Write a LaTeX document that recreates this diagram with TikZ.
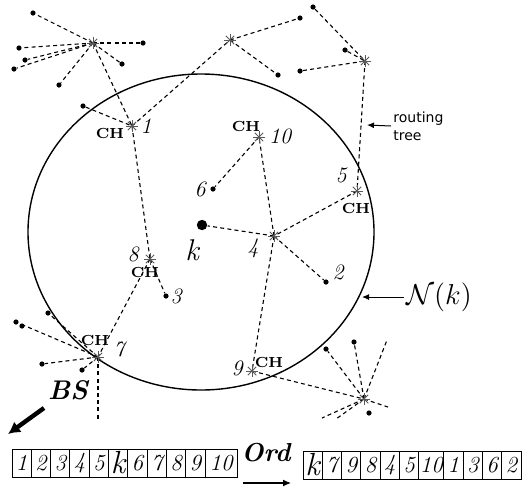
\documentclass[tikz,border=0pt]{standalone}
\usepackage{fontspec}
\newfontfamily\routefont{DejaVu Sans}
\usetikzlibrary{arrows.meta}
\begin{document}
\begin{tikzpicture}[x=0.5pt,y=-0.5pt,
  link/.style={draw, dash pattern=on 2pt off 1.6pt, line width=0.55pt},
  leaf/.style={circle, fill, inner sep=0pt, minimum size=2.6pt},
  bigleaf/.style={circle, fill, inner sep=0pt, minimum size=5.2pt},
  hub/.style={coordinate},
  num/.style={font=\fontsize{11}{11}\selectfont\itshape, inner sep=0pt},
  chlab/.style={font=\fontsize{7.3}{7.3}\selectfont\bfseries, inner sep=0pt},
  cell/.style={draw, line width=0.5pt, minimum height=14pt, minimum width=9.65pt, inner sep=0pt, outer sep=0pt, anchor=west, font=\fontsize{11.5}{11.5}\selectfont\itshape},
  starmark/.style={black!65, line width=0.5pt},
]
\useasboundingbox (0,0) rectangle (524,488);

% neighbourhood ellipse
\draw[line width=0.7pt] (201,232) ellipse [x radius=86.5pt, y radius=79pt];

% cluster heads / hubs
\node[hub] (A) at (93,43) {};
\node[hub] (B) at (230,40) {};
\node[hub] (C) at (365,61) {};
\node[hub] (D) at (364,399) {};
\node[hub] (n1) at (132,126) {};
\node[hub] (n10) at (259,137) {};
\node[hub] (n5) at (357,191) {};
\node[hub] (n4) at (274,236) {};
\node[hub] (n8) at (150,259) {};
\node[hub] (n7) at (98,357) {};
\node[hub] (n9) at (252,371) {};

% leaf nodes
\node[leaf] (a1) at (33,13) {};
\node[leaf] (a2) at (19,48) {};
\node[leaf] (a3) at (25,60) {};
\node[leaf] (a4) at (14,69) {};
\node[leaf] (a5) at (143,43) {};
\node[leaf] (a6) at (122,64) {};
\node[leaf] (a7) at (59,85) {};
\node[leaf] (b1) at (83,106) {};
\node[leaf] (b2) at (300,18) {};
\node[leaf] (b3) at (278,75) {};
\node[leaf] (c1) at (300,71) {};
\node[leaf] (c2) at (313,7) {};
\node[leaf] (c3) at (345,50) {};
\node[leaf] (n6) at (213,189) {};
\node[bigleaf] (k) at (202,225) {};
\node[leaf] (n2) at (326,282) {};
\node[leaf] (n3) at (166,296) {};
\node[leaf] (g1) at (16,322) {};
\node[leaf] (g2) at (22,326) {};
\node[leaf] (g3) at (48,313) {};
\node[leaf] (g4) at (42,364) {};
\node[leaf] (g5) at (82,370) {};
\node[leaf] (d1) at (326,349) {};
\node[leaf] (d2) at (354,342) {};
\node[leaf] (d3) at (369,413) {};
\coordinate (f7) at (98,420);
\coordinate (fd1) at (387,340);
\coordinate (fd2) at (388,407);
\coordinate (fd3) at (322,418);
\coordinate (fd4) at (336,419);

% links
\foreach \x in {a1,a2,a3,a4,a5,a6,a7,n1} \draw[link] (A) -- (\x);
\draw[link] (b1) -- (n1);
\draw[link] (n1) -- (B);
\draw[link] (B) -- (b2);
\draw[link] (B) -- (b3);
\draw[link] (c1) -- (C);
\draw[link] (c2) -- (C);
\draw[link] (c3) -- (C);
\draw[link] (C) -- (n5);
\draw[link] (n5) -- (n4);
\draw[link] (n4) -- (k);
\draw[link] (n4) -- (n2);
\draw[link] (n4) -- (n10);
\draw[link] (n4) -- (n9);
\draw[link] (n10) -- (n6);
\draw[link] (n1) -- (n8);
\draw[link] (n8) -- (n3);
\draw[link] (n8) -- (n7);
\foreach \x in {g1,g3,g4,g5,f7} \draw[link] (n7) -- (\x);
\draw[link] (n9) -- (D);
\foreach \x in {d1,d2,fd1,fd2,fd3,fd4} \draw[link] (D) -- (\x);

% star marks
\foreach \s in {A,B,C,D,n1,n10,n5,n4,n8,n7,n9}
  \foreach \a in {0,45,90,135}
    \draw[starmark] (\s) ++(\a:3pt) -- ++(\a+180:6pt);

% labels
\node[chlab] (ch1) at (110,133) {CH};
\node[num] (l1) at (146,126) {1};
\node[chlab] (ch10) at (246,126) {CH};
\node[num] (l10) at (280,136) {10};
\node[num] (l5) at (341,175) {5};
\node[chlab] (ch5) at (356,208) {CH};
\node[num] (l6) at (200,189) {6};
\node[font=\fontsize{15}{15}\selectfont\itshape, inner sep=0pt] (lk) at (192,250) {k};
\node[num] (l4) at (253,248) {4};
\node[num] (l2) at (338,272) {2};
\node[num] (l8) at (133,254) {8};
\node[chlab] (ch8) at (145,272) {CH};
\node[num] (l3) at (176,296) {3};
\node[chlab] (ch7) at (95,340) {CH};
\node[num] (l7) at (119,349) {7};
\node[num] (l9) at (237,368) {9};
\node[chlab] (ch9) at (269,362) {CH};

% routing tree callout
\node[font=\routefont\fontsize{7}{9}\selectfont, align=left, anchor=west, inner sep=1pt] (rt) at (391,126) {routing\\tree};
\coordinate (rtip) at (367,125);
\draw[line width=0.5pt, -{Latex[length=3.5pt,width=3pt]}] (rt.west) -- (rtip);

% N(k) callout
\node[font=\fontsize{14}{14}\selectfont, inner sep=1pt] (nk) at (439,297) {$\mathcal{N}(k)$};
\coordinate (nkt) at (362,297);
\draw[line width=0.5pt, -{Latex[length=3.5pt,width=3pt]}] (nk.west) -- (nkt);

% BS
\node[font=\fontsize{13.5}{13.5}\selectfont\bfseries\itshape, inner sep=0pt] (bs) at (68,390) {BS};
\coordinate (bst) at (44,408);
\coordinate (bsh) at (8,434);
\draw[line width=2.2pt, -{Latex[length=6pt,width=6.5pt]}] (bst) -- (bsh);

% first array
\node[cell] (p1) at (12,463) {1};
\node[cell] (p2) at (p1.east) {2};
\node[cell] (p3) at (p2.east) {3};
\node[cell] (p4) at (p3.east) {4};
\node[cell] (p5) at (p4.east) {5};
\node[cell, font=\fontsize{16}{16}\selectfont\itshape] (pk) at (p5.east) {k};
\node[cell] (p6) at (pk.east) {6};
\node[cell] (p7) at (p6.east) {7};
\node[cell] (p8) at (p7.east) {8};
\node[cell] (p9) at (p8.east) {9};
\node[cell, minimum width=16pt] (p10) at (p9.east) {10};

% Ord arrow
\node[font=\fontsize{13}{13}\selectfont\bfseries\itshape, inner sep=0pt] (ord) at (266,453) {Ord};
\coordinate (ords) at (243,483);
\coordinate (orde) at (291,483);
\draw[line width=0.6pt, -{Latex[length=4pt,width=3.5pt]}] (ords) -- (orde);

% second array
\node[cell, font=\fontsize{16}{16}\selectfont\itshape] (qk) at (303,465) {k};
\node[cell] (q7) at (qk.east) {7};
\node[cell] (q9) at (q7.east) {9};
\node[cell] (q8) at (q9.east) {8};
\node[cell] (q4) at (q8.east) {4};
\node[cell] (q5) at (q4.east) {5};
\node[cell, minimum width=12.5pt] (q10) at (q5.east) {10};
\node[cell] (q1) at (q10.east) {1};
\node[cell] (q3) at (q1.east) {3};
\node[cell] (q6) at (q3.east) {6};
\node[cell] (q2) at (q6.east) {2};
\end{tikzpicture}
\end{document}
